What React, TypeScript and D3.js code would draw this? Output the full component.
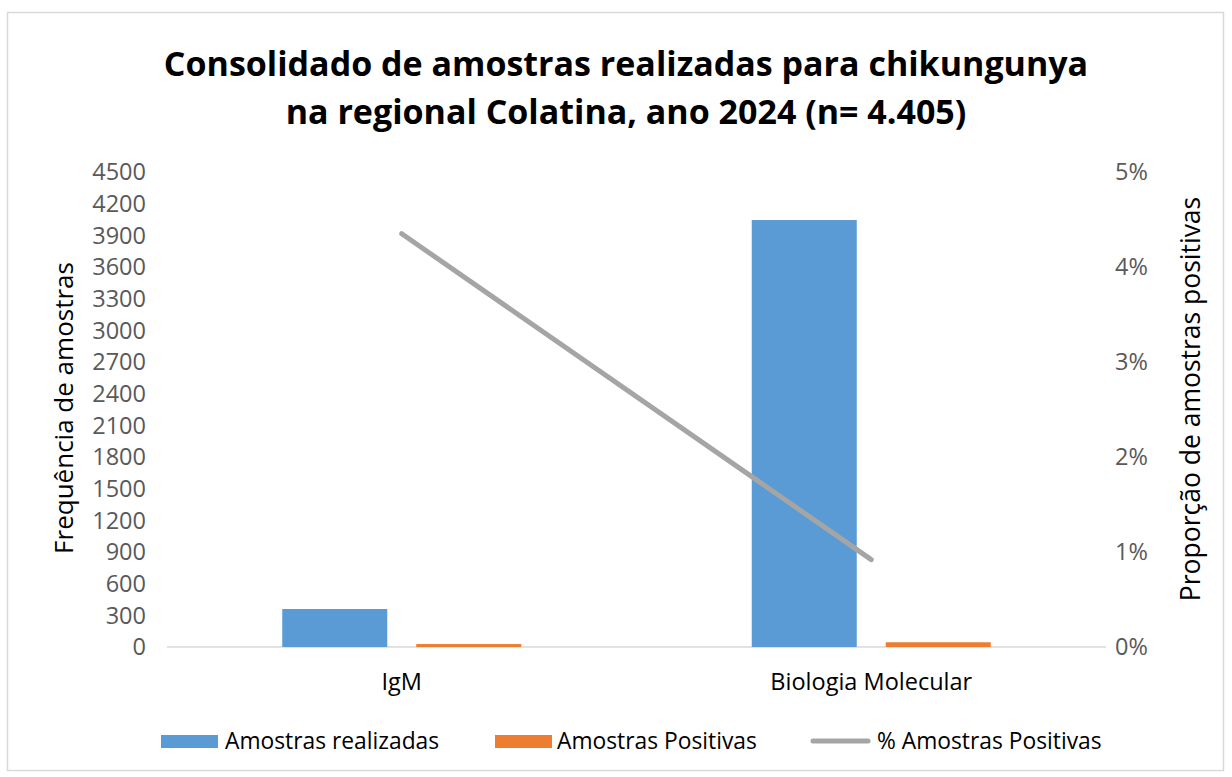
import React from 'react';
import { scaleLinear, scaleBand, line, range } from 'd3';

const categories = ['IgM', 'Biologia Molecular'];
const realizadas = [360, 4045];
const positivas = [28, 45];
const percentPositivas = [4.35, 0.92];
const leftTicks = range(0, 4501, 300);
const rightTicks = [0, 1, 2, 3, 4, 5];
const seriesNames = ['Amostras realizadas', 'Amostras Positivas', '% Amostras Positivas'];
const colors = ['#5b9bd5', '#ed7d31', '#a5a5a5'];

const font = '"Open Sans", sans-serif';

export default function App() {
  const width = 1232, height = 777;
  const left = 167, right = 1106, top = 172, bottom = 647;

  const x = scaleBand().domain(categories).range([left, right]);
  const y = scaleLinear().domain([0, 4500]).range([bottom, top]);
  const yR = scaleLinear().domain([0, 5]).range([bottom, top]);

  const barW = 105, gap = 29;
  const center = (c: string) => (x(c) as number) + x.bandwidth() / 2;

  const lineF = line<number>()
    .x((_, i) => center(categories[i]))
    .y(d => yR(d));

  const legend = [
    { x: 161, tx: 225, type: 'rect' },
    { x: 495, tx: 557, type: 'rect' },
    { x: 811, tx: 877, type: 'line' },
  ];

  return (
    <svg width={width} height={height} style={{ position: 'absolute', left: 0, top: 0 }}>
      <rect x={0} y={0} width={width} height={height} fill="#fff" />
      <rect x={7.5} y={12.5} width={1216} height={758} fill="#fff" stroke="#d9d9d9" strokeWidth={1.5} />

      <g fontFamily={font} fontWeight="bold" fontSize={34} textAnchor="middle" fill="#000">
        <text x={626} y={76}>Consolidado de amostras realizadas para chikungunya</text>
        <text x={626} y={124}>na regional Colatina, ano 2024 (n= 4.405)</text>
      </g>

      <g fontFamily={font} fontSize={23.5} fill="#595959">
        {leftTicks.map(t => (
          <text key={t} x={146} y={y(t)} dy="0.35em" textAnchor="end">{t}</text>
        ))}
        {rightTicks.map(t => (
          <text key={t} x={1115} y={yR(t)} dy="0.35em" textAnchor="start">{t}%</text>
        ))}
      </g>

      <text transform={`translate(73,${408}) rotate(-90)`} fontFamily={font} fontSize={26}
        textAnchor="middle" fill="#000">Frequência de amostras</text>
      <text transform={`translate(1200,${399}) rotate(-90)`} fontFamily={font} fontSize={26.5}
        textAnchor="middle" fill="#000">Proporção de amostras positivas</text>

      <line x1={left} x2={right} y1={bottom} y2={bottom} stroke="#d9d9d9" strokeWidth={1.5} />

      {categories.map((c, i) => (
        <g key={c}>
          <rect x={center(c) - gap / 2 - barW} y={y(realizadas[i])} width={barW}
            height={bottom - y(realizadas[i])} fill={colors[0]} />
          <rect x={center(c) + gap / 2} y={y(positivas[i])} width={barW}
            height={bottom - y(positivas[i])} fill={colors[1]} />
          <text x={center(c)} y={682} dy="0.35em" fontFamily={font} fontSize={23.5} textAnchor="middle" fill="#000">{c}</text>
        </g>
      ))}

      <path d={lineF(percentPositivas) || ''} fill="none" stroke={colors[2]} strokeWidth={5} strokeLinecap="round" />

      <g fontFamily={font} fontSize={22.8} fill="#000">
        {legend.map((l, i) => (
          <g key={i}>
            {l.type === 'rect'
              ? <rect x={l.x} y={735} width={57} height={13} fill={colors[i]} />
              : <line x1={l.x + 2} x2={l.x + 57} y1={741} y2={741} stroke={colors[i]} strokeWidth={5} strokeLinecap="round" />}
            <text x={l.tx} y={741} dy="0.35em">{seriesNames[i]}</text>
          </g>
        ))}
      </g>
    </svg>
  );
}
